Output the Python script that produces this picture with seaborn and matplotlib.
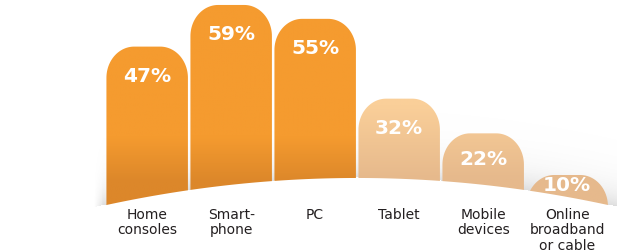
import numpy as np
import pandas as pd
import matplotlib
matplotlib.use("Agg")
import matplotlib.pyplot as plt
from matplotlib.patches import Polygon
import seaborn as sns

# chart data
categories = ["Home\nconsoles", "Smart-\nphone", "PC", "Tablet", "Mobile\ndevices", "Online\nbroadband\nor cable"]
values = [47, 59, 55, 32, 22, 10]
labels = ["47%", "59%", "55%", "32%", "22%", "10%"]
highlight = [True, True, True, False, False, False]

df = pd.DataFrame({"category": categories, "value": values})

sns.set_style("white")
fig = plt.figure(figsize=(6.17, 2.52), dpi=100)
ax = fig.add_axes([0, 0, 1, 1])

sns.barplot(data=df, x="category", y="value", width=0.97, color="#F59B2F", ax=ax)

XMIN, XMAX = -1.752, 5.593
YMIN, YMAX = -12.19, 60.43


def hill(x):
    # white arch the bars stand behind
    return 9.14 - 0.874 * (x - 2.5) ** 2


def blend(c1, c2, t):
    c1 = np.array(matplotlib.colors.to_rgb(c1))
    c2 = np.array(matplotlib.colors.to_rgb(c2))
    return c1[None, :] * (1 - t[:, None]) + c2[None, :] * t[:, None]


def round_top(x0, w, top, bottom=-20, rx=0.33, ry=9.0, n=30):
    # outline of a bar with rounded top corners (data units)
    th = np.linspace(np.pi, np.pi / 2, n)
    left = np.c_[x0 + rx + rx * np.cos(th), top - ry + ry * np.sin(th)]
    th = np.linspace(np.pi / 2, 0, n)
    right = np.c_[x0 + w - rx + rx * np.cos(th), top - ry + ry * np.sin(th)]
    return np.vstack([[x0, bottom], left, right, [x0 + w, bottom]])


# rebuild each bar as a round-topped shape with a vertical gradient
bars = list(ax.patches)
for bar, v, hl in zip(bars, values, highlight):
    x0 = bar.get_x()
    w = bar.get_width()
    bar.remove()
    shape = Polygon(round_top(x0, w, v), closed=True, facecolor="none",
                    edgecolor="none", zorder=2)
    ax.add_patch(shape)
    ys = np.linspace(v, -20, 200)
    if hl:
        t = np.clip((21 - ys) / 13, 0, 1)
        rgb = blend("#F59B2F", "#DC872A", t)
    else:
        t = np.clip((30 - ys) / 21, 0, 1)
        rgb = blend("#FACF99", "#E6B98C", t)
    im = ax.imshow(rgb[:, None, :], extent=[x0, x0 + w, -20, v], aspect="auto",
                   zorder=2, interpolation="bilinear")
    im.set_clip_path(shape)

# soft grey shadow above the arch
gx = np.linspace(XMIN, XMAX, 620)
gy = np.linspace(YMIN, YMAX, 260)
GX, GY = np.meshgrid(gx, gy)
d = GY - hill(GX)
alpha = np.where(d > 0, 0.30 * np.exp(-d / 4.5), 0)
alpha *= np.clip((GX + 0.64) / 0.12, 0, 1)
shadow = np.zeros(GX.shape + (4,))
shadow[..., :3] = 0.55
shadow[..., 3] = alpha
ax.imshow(shadow, extent=[XMIN, XMAX, YMIN, YMAX], origin="lower",
          aspect="auto", zorder=1, interpolation="nearest")

# white arch
hx = np.linspace(XMIN, XMAX, 400)
ax.fill_between(hx, hill(hx), YMIN - 5, color="white", zorder=4, lw=0)

# value labels
for i, (v, lab) in enumerate(zip(values, labels)):
    ly = max(v - 8.5, (v + hill(i)) / 2)
    ax.text(i, ly, lab, ha="center", va="center", color="white",
            fontsize=14.5, fontweight="bold", family="DejaVu Sans", zorder=3)

# category labels
for i, cat in enumerate(categories):
    ax.text(i, 0.6, cat, ha="center", va="top", color="#231F20",
            fontsize=10, linespacing=1.15, family="DejaVu Sans", zorder=5)

ax.set_xlim(XMIN, XMAX)
ax.set_ylim(YMIN, YMAX)
ax.set_axis_off()

fig.savefig("out.png", dpi=100)
